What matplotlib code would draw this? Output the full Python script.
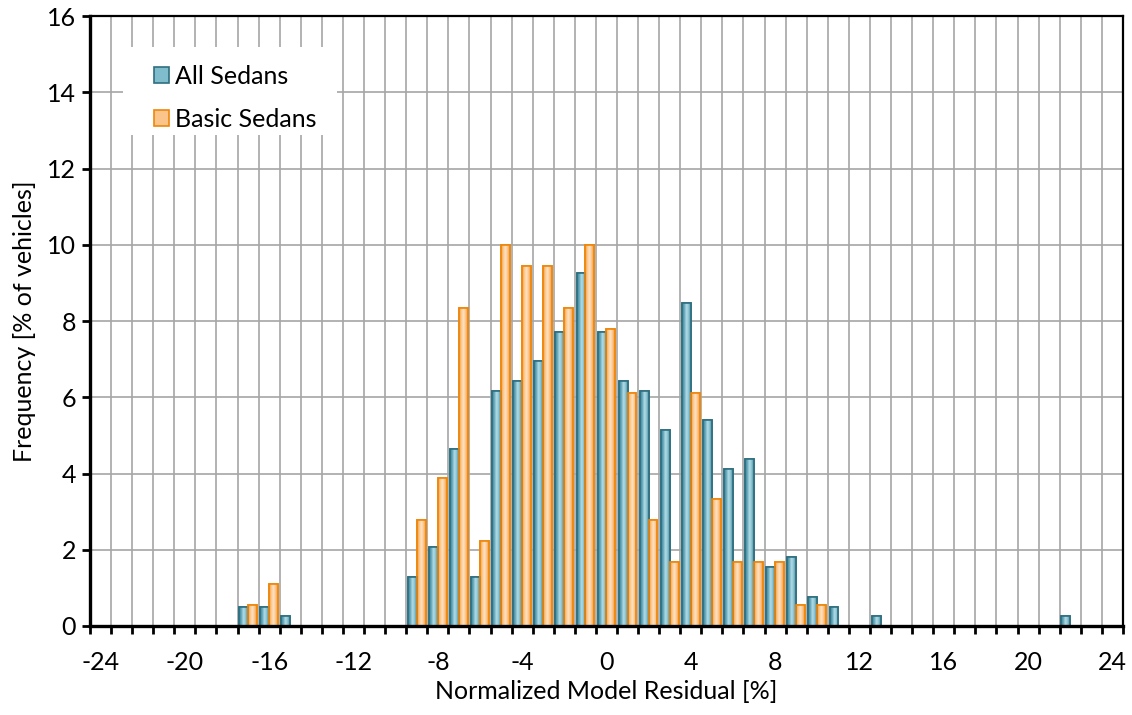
import numpy as np
import matplotlib.pyplot as plt
from matplotlib.colors import LinearSegmentedColormap
from matplotlib.patches import Rectangle

plt.rcParams['font.family'] = ['Lato', 'DejaVu Sans']

# residual bins (one category per integer %) and frequency in % of vehicles
residual_bins = list(range(-24, 25))
all_sedans = [0, 0, 0, 0, 0, 0, 0,
              0.51, 0.51, 0.26,
              0, 0, 0, 0, 0,
              1.29, 2.06, 4.63, 1.29, 6.17, 6.43, 6.94, 7.71, 9.25, 7.71,
              6.43, 6.17, 5.14, 8.48, 5.40, 4.11, 4.37, 1.54, 1.80, 0.77, 0.51,
              0, 0.26,
              0, 0, 0, 0, 0, 0, 0, 0,
              0.26, 0, 0]
basic_sedans = [0, 0, 0, 0, 0, 0, 0,
                0.56, 1.11,
                0, 0, 0, 0, 0, 0,
                2.78, 3.89, 8.33, 2.22, 10.0, 9.44, 9.44, 8.33, 10.0, 7.78,
                6.11, 2.78, 1.67, 6.11, 3.33, 1.67, 1.67, 1.67, 0.56, 0.56,
                0, 0, 0, 0, 0, 0, 0, 0, 0, 0, 0, 0, 0, 0]
series_names = ['All Sedans', 'Basic Sedans']
x_labels = list(range(-24, 25, 4))

blue_cmap = LinearSegmentedColormap.from_list(
    'b', ['#3a8094', '#62a6b9', '#b3dce7', '#8ac2d1', '#47899c'])
orange_cmap = LinearSegmentedColormap.from_list(
    'o', ['#f59a34', '#fbc78b', '#fde3c6', '#fbc48a', '#f39730'])
grad = np.linspace(0, 1, 64).reshape(1, -1)

fig = plt.figure(figsize=(11.32, 7.15), dpi=100)
ax = fig.add_axes([0.0795, 0.1245, 0.9125, 0.853])

width = 0.42
x = np.array(residual_bins)


def draw_bars(offset, values, face, edge, cmap, label):
    vals = np.array(values)
    keep = vals > 0
    bars = ax.bar(x[keep] + offset, vals[keep], width, color=face, edgecolor=edge,
                  linewidth=1.2, zorder=3, label=label)
    for b in bars:
        x0 = b.get_x()
        h = b.get_height()
        im = ax.imshow(grad, cmap=cmap, aspect='auto', zorder=3.5,
                       extent=[x0, x0 + b.get_width(), 0, h], interpolation='bilinear')
        im.set_clip_path(b)
        ax.bar(x0 + b.get_width() / 2, h, b.get_width(), fill=False,
               edgecolor=edge, linewidth=1.2, zorder=4)
    return bars


draw_bars(-width / 2, all_sedans, '#7fbccc', '#2f6f80', blue_cmap, series_names[0])
draw_bars(width / 2, basic_sedans, '#fbc48a', '#ee860c', orange_cmap, series_names[1])

ax.set_xlim(-24.5, 24.5)
ax.set_ylim(0, 16)

ax.set_xticks(x_labels)
ax.set_xticklabels([str(v) for v in x_labels])
ax.set_xticks(np.arange(-24.5, 25, 1), minor=True)
ax.tick_params(axis='x', which='major', length=0, labelsize=18, pad=18)
ax.tick_params(axis='x', which='minor', length=6, width=2, direction='out')
ax.set_yticks(range(0, 17, 2))
ax.tick_params(axis='y', length=6, width=2, direction='out', labelsize=18, pad=4)

ax.grid(True, which='minor', axis='x', color='#a6a6a6', linewidth=1.2, zorder=0)
ax.grid(True, which='major', axis='y', color='#a6a6a6', linewidth=1.2, zorder=0)
ax.set_axisbelow(True)

for s in ['left', 'bottom']:
    ax.spines[s].set_linewidth(2.4)
for s in ['top', 'right']:
    ax.spines[s].set_linewidth(1.6)
for s in ax.spines.values():
    s.set_color('black')
    s.set_zorder(5)

ax.set_xlabel('Normalized Model Residual [%]', fontsize=18, labelpad=4)
ax.set_ylabel('Frequency [% of vehicles]', fontsize=18, labelpad=8)

# white legend area
ax.add_patch(Rectangle((0.032, 0.805), 0.207, 0.144, transform=ax.transAxes,
                       facecolor='white', edgecolor='none', zorder=2))
leg = ax.legend(loc='upper left', bbox_to_anchor=(0.062, 0.92), borderaxespad=0,
                borderpad=0, fontsize=18, frameon=False, handlelength=0.6,
                handleheight=0.6, handletextpad=0.25, labelspacing=0.8)
leg.set_zorder(6)

plt.savefig('out.png', dpi=100)
plt.close()
